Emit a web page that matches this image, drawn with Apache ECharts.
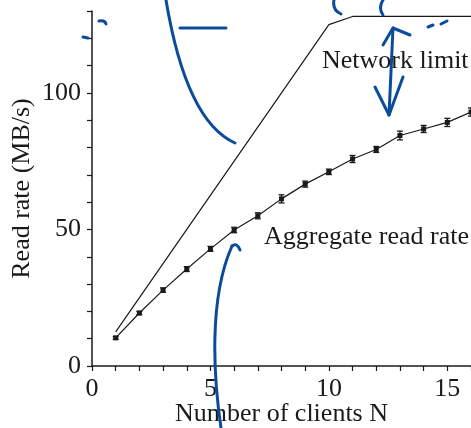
<!DOCTYPE html>
<html>
<head>
<meta charset="utf-8">
<script src="https://cdn.jsdelivr.net/npm/echarts@6/dist/echarts.min.js"></script>
<style>
html, body { margin: 0; padding: 0; background: #fff; }
#main { width: 471px; height: 428px; }
</style>
</head>
<body>
<div id="main"></div>
<script>
// number of clients and measured aggregate read rate (MB/s)
const clients = [1, 2, 3, 4, 5, 6, 7, 8, 9, 10, 11, 12, 13, 14, 15, 16];
const readRate = [10.3, 19.4, 27.8, 35.5, 42.9, 49.8, 55.0, 61.2, 66.6, 71.1, 75.8, 79.3, 84.4, 86.8, 89.2, 93.0];
const readErr = [0.5, 0.6, 0.8, 0.9, 0.9, 1.0, 1.1, 1.5, 1.1, 1.0, 1.3, 1.1, 1.6, 1.3, 1.5, 1.5];

// theoretical network limit
const limitX = [1, 10, 11, 16];
const limitY = [12.5, 125, 128, 128];

// in-plot labels [x, y, text]
const notes = [
  [9.71, 111.5, 'Network limit'],
  [7.26, 47.2, 'Aggregate read rate']
];

const ink = '#1a1a1a';
const font = 'Liberation Serif';
const pen = { stroke: '#0b4c9a', lineWidth: 3, fill: null, lineCap: 'round', lineJoin: 'round' };

const chart = echarts.init(document.getElementById('main'));

// hand-drawn blue pen marks over the figure (pixel space)
const curves = [
  [166, 0, 176, 60, 195, 125, 235, 143],
  [221, 428, 214, 380, 208, 300, 232, 246],
  [232, 246, 237, 242, null, null, 240, 250],
  [99, 21, 105, 20, null, null, 106, 24],
  [334, 0, 332, 10, null, null, 341, 14],
  [383, 0, 378, 8, null, null, 383, 15],
  [393, 28, 391, 70, null, null, 389, 115]
];
const strokes = [
  [[180, 28], [226, 28]],
  [[83, 37], [88, 38]],
  [[383, 45], [393, 28], [410, 35]],
  [[375, 87], [389, 115], [403, 77]],
  [[428, 27], [433, 25]],
  [[441, 24], [447, 21]]
];

const penMarks = curves.map(c => {
  const shape = { x1: c[0], y1: c[1], cpx1: c[2], cpy1: c[3], x2: c[6], y2: c[7] };
  if (c[4] !== null) { shape.cpx2 = c[4]; shape.cpy2 = c[5]; }
  return { type: 'bezierCurve', shape: shape, style: pen, z: 100 };
}).concat(strokes.map(p => ({
  type: 'polyline', shape: { points: p }, style: pen, z: 100
})));

const option = {
  animation: false,
  grid: { left: 92, right: 0, top: 11, bottom: 62, outerBoundsMode: 'none' },
  xAxis: {
    type: 'value', min: 0, max: 16, interval: 1,
    name: 'Number of clients N', nameLocation: 'middle', nameGap: 35, nameMoveOverlap: false,
    nameTextStyle: { fontFamily: font, fontSize: 26, color: ink },
    axisLine: { lineStyle: { color: ink, width: 1.5 } },
    axisTick: { inside: false, length: 5, lineStyle: { color: ink, width: 1.2 } },
    axisLabel: {
      fontFamily: font, fontSize: 26, color: ink, margin: 10,
      formatter: v => (v % 5 === 0 && v < 16) ? String(v) : ''
    },
    splitLine: { show: false }
  },
  yAxis: {
    type: 'value', min: 0, max: 130, interval: 10,
    name: 'Read rate (MB/s)', nameLocation: 'middle', nameGap: 57, nameMoveOverlap: false,
    nameTextStyle: { fontFamily: font, fontSize: 26, color: ink },
    axisLine: { lineStyle: { color: ink, width: 1.5 } },
    axisTick: { inside: false, length: 5, lineStyle: { color: ink, width: 1.2 } },
    axisLabel: {
      fontFamily: font, fontSize: 26, color: ink, margin: 11,
      formatter: v => (v % 50 === 0) ? String(v) : ''
    },
    splitLine: { show: false }
  },
  series: [
    {
      type: 'line',
      data: limitX.map((x, i) => [x, limitY[i]]),
      showSymbol: false,
      lineStyle: { color: ink, width: 1.2 }
    },
    {
      type: 'line',
      data: clients.map((x, i) => [x, readRate[i]]),
      symbol: 'rect', symbolSize: 5,
      itemStyle: { color: ink },
      lineStyle: { color: ink, width: 1.2 }
    },
    {
      type: 'custom',
      data: clients.map((x, i) => [x, readRate[i] - readErr[i], readRate[i] + readErr[i]]),
      renderItem: (params, api) => {
        const lo = api.coord([api.value(0), api.value(1)]);
        const hi = api.coord([api.value(0), api.value(2)]);
        const w = 3;
        const st = { stroke: ink, lineWidth: 1.3 };
        return {
          type: 'group',
          children: [
            { type: 'line', shape: { x1: lo[0], y1: lo[1], x2: hi[0], y2: hi[1] }, style: st },
            { type: 'line', shape: { x1: lo[0] - w, y1: lo[1], x2: lo[0] + w, y2: lo[1] }, style: st },
            { type: 'line', shape: { x1: hi[0] - w, y1: hi[1], x2: hi[0] + w, y2: hi[1] }, style: st }
          ]
        };
      },
      z: 3
    },
    {
      type: 'scatter',
      data: notes.map(n => ({ value: [n[0], n[1]], name: n[2] })),
      symbolSize: 0,
      itemStyle: { opacity: 1 },
      label: {
        show: true, position: 'right', distance: 0, opacity: 1,
        formatter: p => p.name,
        fontFamily: font, fontSize: 26, color: ink
      }
    }
  ],
  graphic: penMarks
};

chart.setOption(option);
</script>
</body>
</html>
